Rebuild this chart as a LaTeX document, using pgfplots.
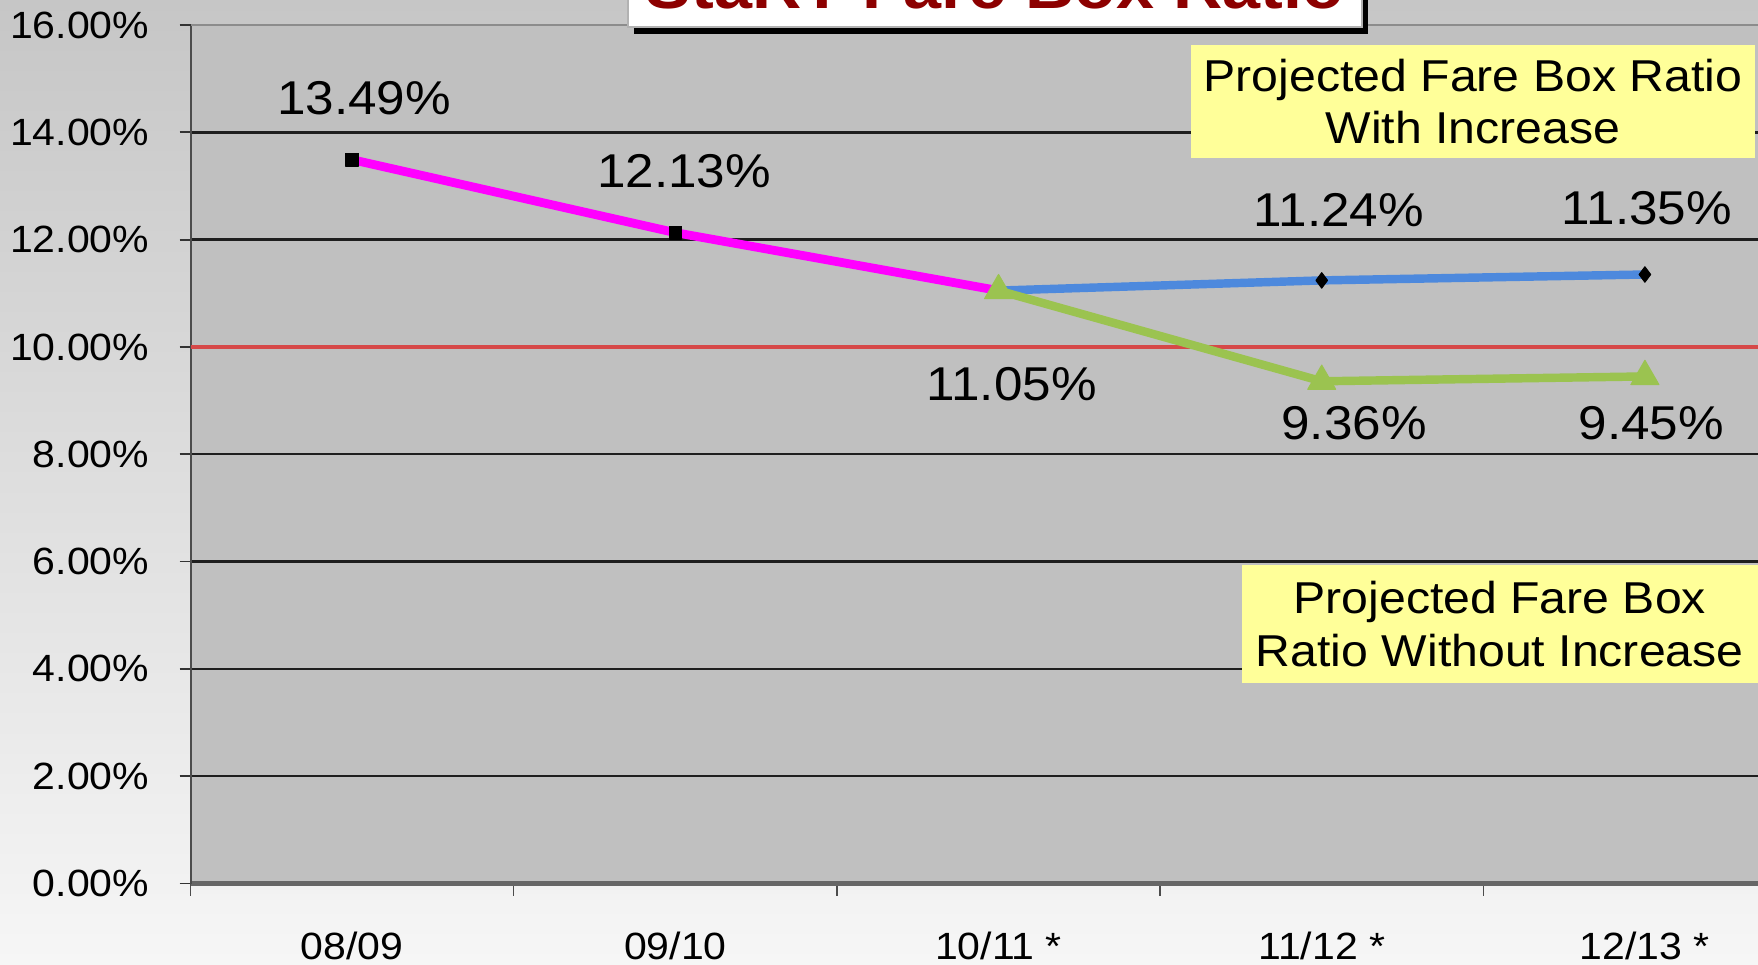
\documentclass[border=0pt]{standalone}
\usepackage{fontspec}
\setmainfont{Liberation Sans}[FakeStretch=1.08]
\usepackage{pgfplots}
\pgfplotsset{compat=1.18}
\definecolor{plotbg}{RGB}{192,192,192}
\definecolor{bgtop}{RGB}{198,198,198}
\definecolor{bgbot}{RGB}{246,246,246}
\definecolor{magline}{RGB}{255,0,255}
\definecolor{blueline}{RGB}{77,137,221}
\definecolor{greenline}{RGB}{155,195,80}
\definecolor{redline}{RGB}{214,72,72}
\definecolor{boxyellow}{RGB}{255,255,153}
\definecolor{titlered}{RGB}{140,0,0}
\definecolor{gridc}{RGB}{30,30,30}
\begin{document}
\begin{tikzpicture}
\shade[top color=bgtop, bottom color=bgbot] (0,0) rectangle (17.58cm,9.64cm);
\useasboundingbox (0,0) rectangle (17.58cm,9.64cm);
\begin{axis}[
  at={(1.906cm,0.805cm)}, anchor=south west,
  scale only axis, width=15.674cm, height=8.585cm,
  xmin=-0.5, xmax=4.35, ymin=0, ymax=16,
  axis background/.style={fill=plotbg},
  axis x line*=bottom, axis y line*=left,
  x axis line style={draw=black!60, line width=1.2pt, -},
  y axis line style={draw=black!70, line width=0.6pt, -},
  tick align=outside,
  xtick={0,1,2,3,4},
  xticklabels={08/09,09/10,10/11 *,11/12 *,12/13 *},
  minor xtick={-0.5,0.5,1.5,2.5,3.5},
  major x tick style={draw=none},
  minor x tick style={draw=black!70, line width=0.4pt},
  minor tick length=0.12cm,
  major tick length=0.11cm,
  ytick={0,2,4,6,8,10,12,14},
  yticklabels={0.00\%,2.00\%,4.00\%,6.00\%,8.00\%,10.00\%,12.00\%,14.00\%},
  extra y ticks={16},
  extra y tick labels={16.00\%},
  extra y tick style={grid style={draw=black!45, line width=0.5pt}},
  y tick style={draw=black!80, line width=0.5pt},
  ymajorgrids=true,
  grid style={draw=gridc, line width=0.7pt},
  ticklabel style={font=\fontsize{10.8}{13}\selectfont},
  yticklabel style={anchor=east, xshift=-0.18cm},
  xticklabel style={anchor=center, yshift=-0.51cm},
]
\addplot[redline, line width=1pt] coordinates {(-0.5,10) (4.35,10)};
\addplot[magline, line width=2.5pt, line join=round, mark=square*, mark indices={1,2}, mark size=1.8pt,
  mark options={fill=black, draw=black, line width=0.3pt}] coordinates {(0,13.49) (1,12.13) (2,11.05)};
\addplot[blueline, line width=2.4pt, line join=round, mark=diamond*, mark indices={2,3}, mark size=2.2pt,
  mark options={fill=black, draw=black, line width=0.3pt}] coordinates {(2,11.05) (3,11.24) (4,11.35)};
\addplot[greenline, line width=2.4pt, line join=round, mark=triangle*, mark size=4.6pt,
  mark options={fill=greenline, draw=greenline, line width=0.3pt}] coordinates {(2,11.05) (3,9.36) (4,9.45)};
\begin{scope}[every node/.style={font=\fontsize{13.5}{16}\selectfont, inner sep=0pt}]
\node at (axis cs:0.0365,14.63) {13.49\%};
\node at (axis cs:1.027,13.27) {12.13\%};
\node at (axis cs:2.041,9.30) {11.05\%};
\node at (axis cs:3.053,12.56) {11.24\%};
\node at (axis cs:4.006,12.58) {11.35\%};
\node at (axis cs:3.100,8.57) {9.36\%};
\node at (axis cs:4.020,8.57) {9.45\%};
\end{scope}
\node[fill=boxyellow, minimum width=5.64cm, minimum height=1.13cm, align=center, inner sep=0pt,
  font=\fontsize{12.7}{14.8}\selectfont] at (axis cs:3.468,14.57) {Projected Fare Box Ratio\\With Increase};
\node[fill=boxyellow, minimum width=5.16cm, minimum height=1.18cm, align=center, inner sep=0pt,
  font=\fontsize{12.7}{15}\selectfont] at (axis cs:3.551,4.836) {Projected Fare Box\\Ratio Without Increase};
\end{axis}
\fill[black] (6.34cm,9.30cm) rectangle (13.68cm,10.6cm);
\filldraw[fill=white, draw=black!30, line width=0.4pt] (6.28cm,9.37cm) rectangle (13.62cm,10.6cm);
\node[anchor=base, font=\fontsize{18}{20}\selectfont\bfseries, text=titlered, inner sep=0pt] at (9.95cm,9.55cm) {StaRT Fare Box Ratio};
\end{tikzpicture}
\end{document}
